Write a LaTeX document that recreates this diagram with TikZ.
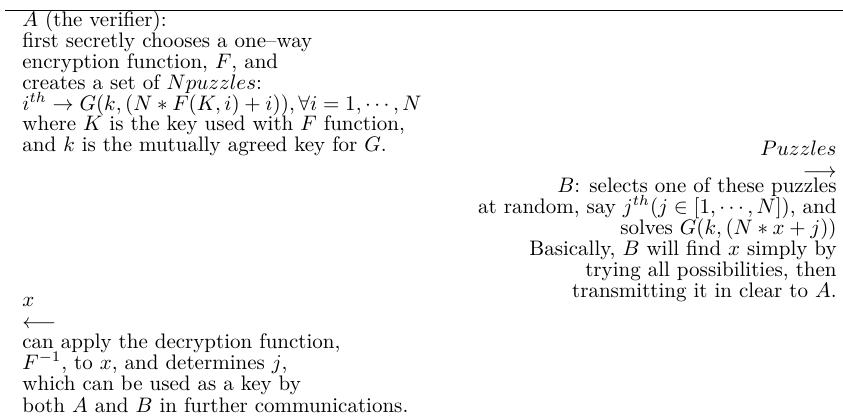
\documentclass[tikz,border=0pt]{standalone}
\usepackage{amssymb}
\usepackage{tikz}

\begin{document}
\begin{tikzpicture}[x=0.4762pt,y=-0.4762pt,
  txt/.style={inner sep=0pt,font=\fontsize{10}{12}\selectfont},
  lcol/.style={txt,anchor=base west},
  rcol/.style={txt,anchor=base east}]
\useasboundingbox[fill=white] (0,0) rectangle (843,419);

% top rule of the table
\coordinate (ruleL) at (5,10);
\coordinate (ruleR) at (843,10);
\draw[line width=0.45pt] (ruleL) -- (ruleR);

% A's first step
\node[lcol] (ver1) at (22,27)  {$A$ (the verifier):};
\node[lcol] (ver2) at (22,48)  {first secretly chooses a one--way};
\node[lcol] (ver3) at (22,68.5){encryption function, $F$, and};
\node[lcol] (ver4) at (22,89)  {creates a set of $N puzzles$:};
\node[lcol] (ver5) at (22,110) {$i^{th} \rightarrow G(k,(N*F(K,i)+i)), \forall i = 1,\cdots,N$};
\node[lcol] (ver6) at (22,130.5){where $K$ is the key used with $F$ function,};
\node[lcol] (ver7) at (22,151) {and $k$ is the mutually agreed key for $G$.};

% message to B
\node[rcol] (puzlabel) at (837,155) {$Puzzles$};
\node[rcol] (puzarrow) at (837,177) {$\longrightarrow$};

% B's step
\node[rcol] (prv1) at (837,192) {$B$: selects one of these puzzles};
\node[rcol] (prv2) at (837,213) {at random, say $j^{th}(j \in [1,\cdots,N])$, and};
\node[rcol] (prv3) at (837,234) {solves $G(k,(N*x+j))$};
\node[rcol] (prv4) at (837,255) {Basically, $B$ will find $x$ simply by};
\node[rcol] (prv5) at (837,276) {trying all possibilities, then};
\node[rcol] (prv6) at (837,297) {transmitting it in clear to $A$.};

% message back to A
\node[lcol] (xlabel) at (22,306) {$x$};
\node[lcol] (xarrow) at (22,328) {$\longleftarrow$};

% A's last step
\node[lcol] (dec1) at (22,348)   {can apply the decryption function,};
\node[lcol] (dec2) at (22,369)   {$F^{-1}$, to $x$, and determines $j$,};
\node[lcol] (dec3) at (22,390.5) {which can be used as a key by};
\node[lcol] (dec4) at (22,412)   {both $A$ and $B$ in further communications.};
\end{tikzpicture}
\end{document}
